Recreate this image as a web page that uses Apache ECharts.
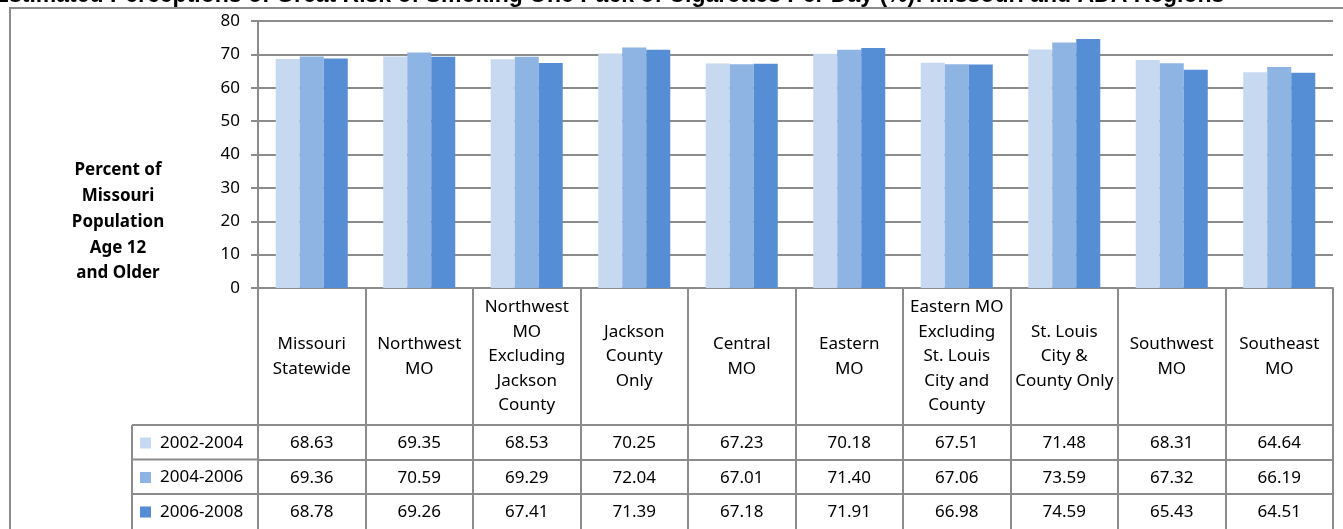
<!DOCTYPE html>
<html>
<head>
<meta charset="utf-8">
<script src="https://cdn.jsdelivr.net/npm/echarts@6/dist/echarts.min.js"></script>
<style>
html,body{margin:0;padding:0;background:#fff;}
#chart{width:1343px;height:529px;}
</style>
</head>
<body>
<div id="chart"></div>
<script>
const chartTitle = 'Estimated Perceptions of Great Risk of Smoking One Pack of Cigarettes Per Day (%): Missouri and ADA Regions';
const yAxisTitle = 'Percent of\nMissouri\nPopulation\nAge 12\nand Older';
const categories = [
  'Missouri\nStatewide',
  'Northwest\nMO',
  'Northwest\nMO\nExcluding\nJackson\nCounty',
  'Jackson\nCounty\nOnly',
  'Central\nMO',
  'Eastern\nMO',
  'Eastern MO\nExcluding\nSt. Louis\nCity and\nCounty',
  'St. Louis\nCity &\nCounty Only',
  'Southwest\nMO',
  'Southeast\nMO'
];
const seriesNames = ['2002-2004', '2004-2006', '2006-2008'];
const values2002 = [68.63, 69.35, 68.53, 70.25, 67.23, 70.18, 67.51, 71.48, 68.31, 64.64];
const values2004 = [69.36, 70.59, 69.29, 72.04, 67.01, 71.40, 67.06, 73.59, 67.32, 66.19];
const values2006 = [68.78, 69.26, 67.41, 71.39, 67.18, 71.91, 66.98, 74.59, 65.43, 64.51];
const yMin = 0, yMax = 80, yInterval = 10;

const colors = ['#C6D9F1', '#8EB4E3', '#558ED5'];
const allValues = [values2002, values2004, values2006];
const lineColor = '#8c8c8c';
const font = 'Noto Sans';

const gridLeft = 258, gridRight = 10, gridTop = 21, gridBottom = 241;
const headerH = 137, rowH = 34.5;
const legendLeft = 132;
const axisY = 529 - gridBottom;

const chart = echarts.init(document.getElementById('chart'), null, {renderer: 'canvas'});

const xAxes = [{
  type: 'category',
  data: categories,
  gridIndex: 0,
  position: 'bottom',
  axisLine: {show: true, lineStyle: {color: lineColor, width: 2}},
  axisTick: {show: true, length: 245, lineStyle: {color: lineColor, width: 2}},
  axisLabel: {
    interval: 0, margin: headerH / 2, verticalAlign: 'middle',
    fontFamily: font, fontSize: 17, lineHeight: 24.5, color: '#000'
  }
}];
allValues.forEach((arr, i) => {
  xAxes.push({
    type: 'category',
    data: categories,
    gridIndex: 0,
    position: 'bottom',
    offset: headerH + rowH * i,
    axisLine: {show: true, lineStyle: {color: lineColor, width: 2}},
    axisTick: {show: false},
    axisLabel: {
      interval: 0, margin: rowH / 2 + 1, verticalAlign: 'middle',
      fontFamily: font, fontSize: 17, color: '#000',
      formatter: (v, idx) => arr[idx].toFixed(2)
    }
  });
});

const graphics = [
  {type: 'rect', z: -10, shape: {x: 10, y: 8, width: 1400, height: 600},
   style: {fill: 'none', stroke: lineColor, lineWidth: 2}},
  {type: 'text', x: 609, y: 7,
   style: {text: chartTitle, align: 'center', verticalAlign: 'bottom',
     font: 'bold 23px "Liberation Sans", Arial, sans-serif', fill: '#000'}},
  {type: 'text', x: 118, y: 222,
   style: {text: yAxisTitle, align: 'center', verticalAlign: 'middle',
     font: 'bold 17px "Noto Sans", sans-serif', lineHeight: 25.7, fill: '#000'}},
  {type: 'line', shape: {x1: legendLeft, y1: axisY + headerH, x2: legendLeft, y2: 540},
   style: {stroke: lineColor, lineWidth: 2}}
];
for (let i = 0; i < 3; i++) {
  const y = axisY + headerH + rowH * i;
  graphics.push({type: 'line', shape: {x1: legendLeft, y1: y, x2: gridLeft, y2: y},
    style: {stroke: lineColor, lineWidth: 2}});
}

const option = {
  backgroundColor: '#fff',
  animation: false,
  color: colors,
  textStyle: {fontFamily: font},
  grid: {left: gridLeft, right: gridRight, top: gridTop, bottom: gridBottom, containLabel: false},
  legend: {
    orient: 'vertical',
    left: legendLeft + 8,
    top: axisY + headerH + 8,
    padding: 0,
    itemGap: 14.5,
    itemWidth: 11,
    itemHeight: 11,
    icon: 'rect',
    data: seriesNames,
    textStyle: {fontFamily: font, fontSize: 17, color: '#000', lineHeight: 20, padding: [0, 0, 0, 4]}
  },
  xAxis: xAxes,
  yAxis: {
    type: 'value',
    min: yMin, max: yMax, interval: yInterval,
    axisLine: {show: true, lineStyle: {color: lineColor, width: 2}},
    axisTick: {show: true, length: 7, lineStyle: {color: lineColor, width: 2}},
    axisLabel: {fontFamily: font, fontSize: 17, color: '#000', margin: 18},
    splitLine: {show: true, lineStyle: {color: lineColor, width: 2}}
  },
  series: allValues.map((arr, i) => ({
    name: seriesNames[i],
    type: 'bar',
    xAxisIndex: 0,
    data: arr,
    barGap: '0%',
    barCategoryGap: '33%',
    itemStyle: {color: colors[i]}
  })),
  graphic: graphics
};
chart.setOption(option);
</script>
</body>
</html>
